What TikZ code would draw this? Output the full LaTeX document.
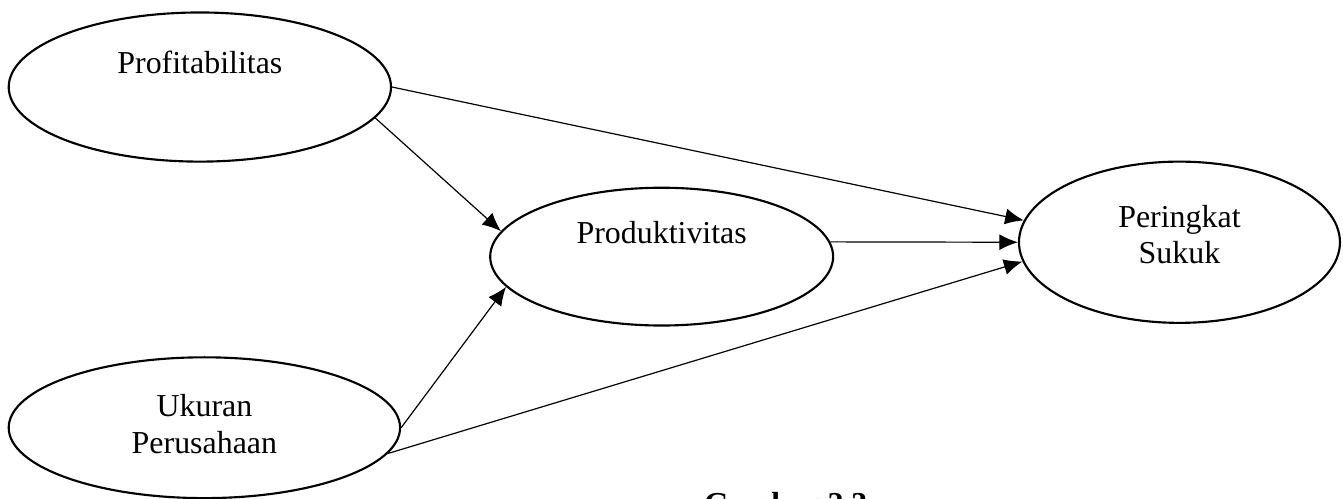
\documentclass[tikz,border=0pt]{standalone}
\usepackage{fontspec}
\setmainfont{Liberation Serif}
\usetikzlibrary{shapes.geometric,arrows.meta,positioning}

\begin{document}
\begin{tikzpicture}[
      var/.style={ellipse, draw, line width=0.8pt, inner sep=0pt},
      lbl/.style={align=center, inner sep=0pt, font=\fontsize{12}{13.8}\selectfont},
      arr/.style={-{Latex[length=7pt,width=6pt]}, line width=0.45pt}
  ]
    \useasboundingbox (0,0) rectangle (17.74,6.59);

    % variables
    \node[var, minimum width=5.05cm, minimum height=1.97cm] (prof) at (2.64,5.44) {};
    \node[var, minimum width=4.53cm, minimum height=1.82cm] (prod) at (8.74,3.20) {};
    \node[var, minimum width=4.24cm, minimum height=2.13cm] (per) at (15.58,3.39) {};
    \node[var, minimum width=5.17cm, minimum height=1.86cm] (uk) at (2.70,0.94) {};

    \node[lbl] (proftxt) at ([yshift=0.32cm]prof.center) {Profitabilitas};
    \node[lbl] (prodtxt) at ([yshift=0.32cm]prod.center) {Produktivitas};
    \node[lbl] (pertxt) at ([yshift=0.1cm]per.center) {Peringkat\\Sukuk};
    \node[lbl] (uktxt) at ([yshift=0.05cm]uk.center) {Ukuran\\Perusahaan};

    % paths
    \draw[arr] (prof.east) -- (per.172);
    \draw[arr] (prof.-10) -- (prod.171);
    \draw[arr] (prod.5) -- (per.west);
    \draw[arr] (uk.east) -- (prod.191);
    \draw[arr] (uk.-8) -- (per.187);

    \node[font=\fontsize{12}{13.8}\selectfont\bfseries, anchor=base] (cap) at (10.38,-0.2) {Gambar 2.3};

\end{tikzpicture}
\end{document}
